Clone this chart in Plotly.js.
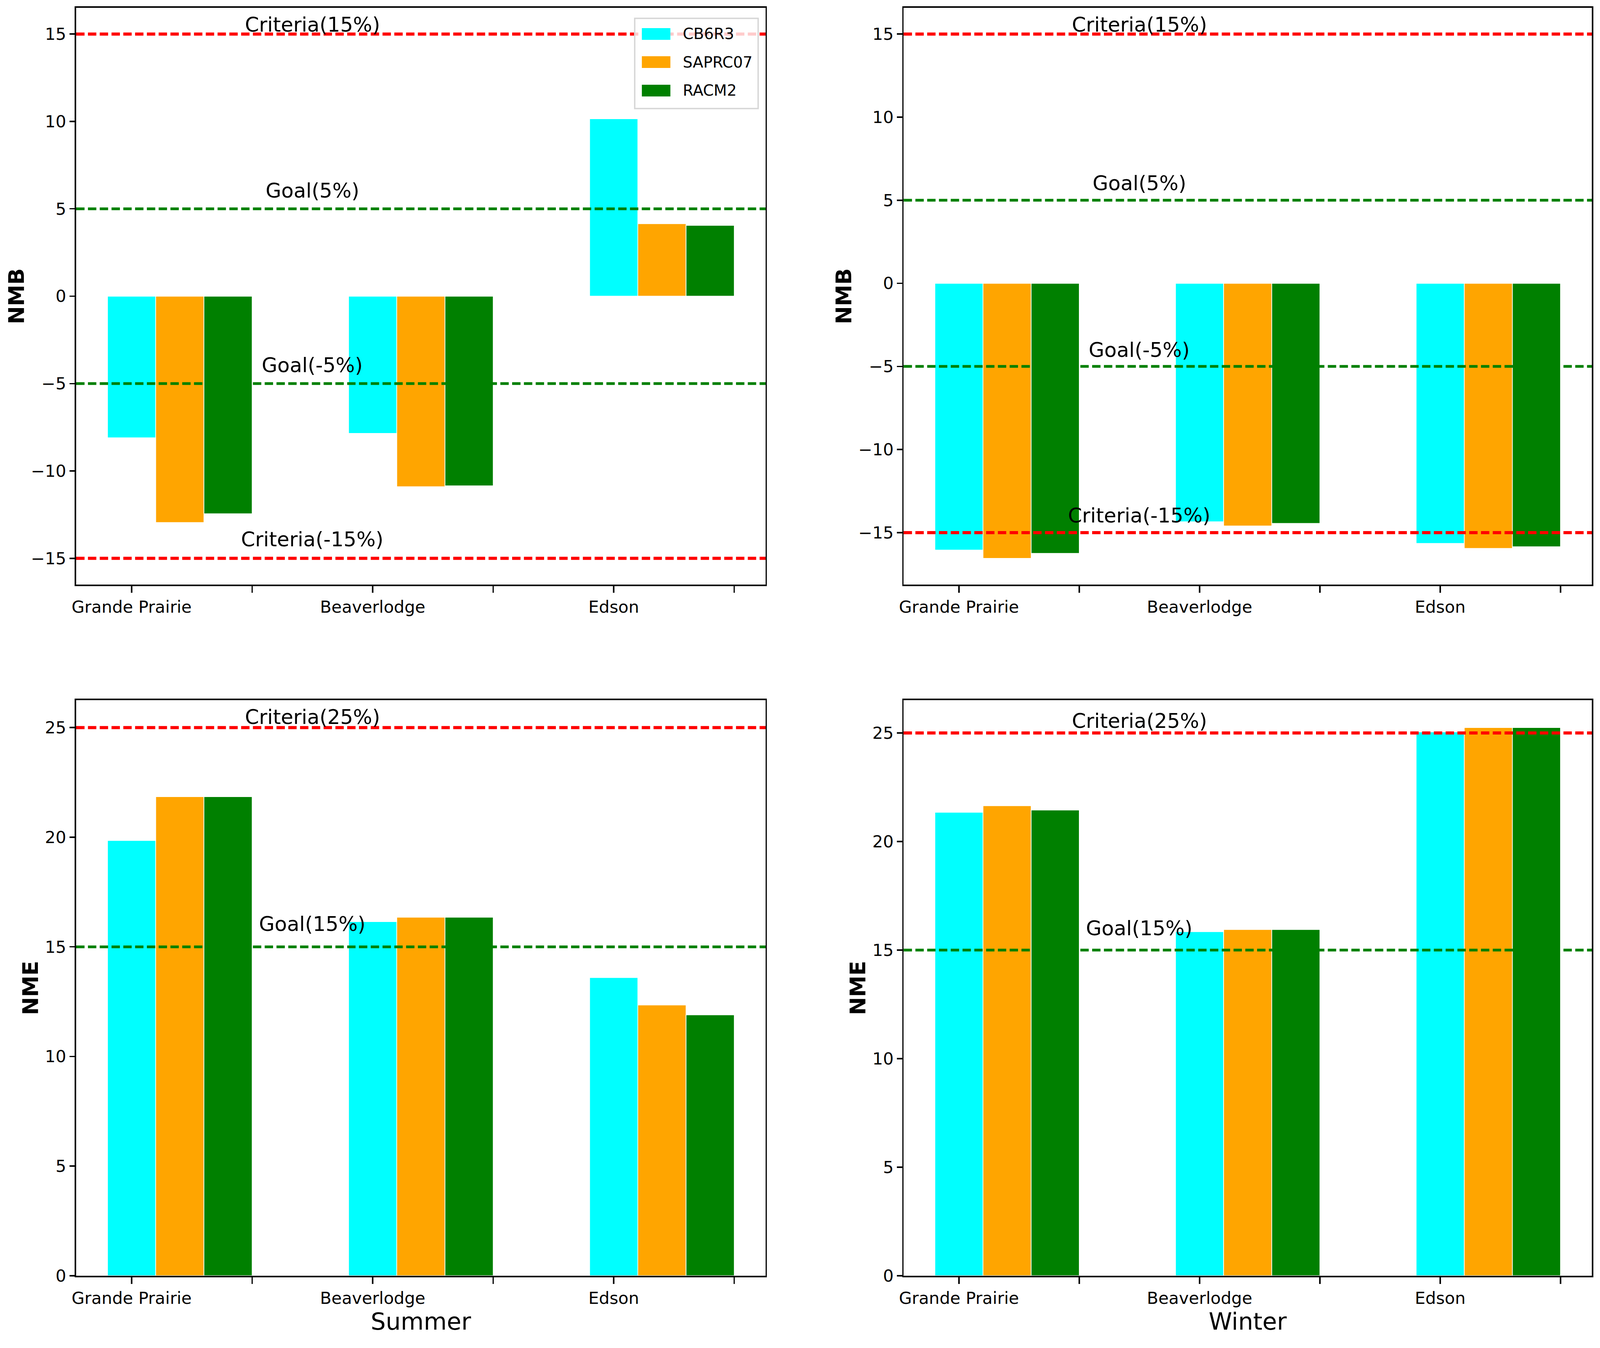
<!DOCTYPE html>
<html>
<head>
<meta charset="utf-8">
<script src="https://cdn.plot.ly/plotly-3.0.1.min.js"></script>
<style>html,body{margin:0;padding:0;background:#fff;overflow:hidden;}#chart{position:absolute;left:0;top:0;}</style>
</head>
<body>
<div id="chart"></div>
<script>
// ---------------- data ----------------
const categories = ['Grande Prairie', 'Beaverlodge', 'Edson'];
const seriesNames = ['CB6R3', 'SAPRC07', 'RACM2'];
const seriesColors = ['#00ffff', '#ffa500', '#008000'];

const summerNMB_CB6R3   = [-8.1, -7.85, 10.15];
const summerNMB_SAPRC07 = [-12.95, -10.9, 4.15];
const summerNMB_RACM2   = [-12.45, -10.85, 4.05];

const winterNMB_CB6R3   = [-16.05, -14.35, -15.65];
const winterNMB_SAPRC07 = [-16.55, -14.6, -15.95];
const winterNMB_RACM2   = [-16.25, -14.45, -15.85];

const summerNME_CB6R3   = [19.85, 16.15, 13.6];
const summerNME_SAPRC07 = [21.85, 16.35, 12.35];
const summerNME_RACM2   = [21.85, 16.35, 11.9];

const winterNME_CB6R3   = [21.35, 15.85, 25.05];
const winterNME_SAPRC07 = [21.65, 15.95, 25.25];
const winterNME_RACM2   = [21.45, 15.95, 25.25];

const nmbLines = [15, 5, -5, -15];
const nmbLabels = ['Criteria(15%)', 'Goal(5%)', 'Goal(-5%)', 'Criteria(-15%)'];
const nmeLines = [25, 15];
const nmeLabels = ['Criteria(25%)', 'Goal(15%)'];

// ---------------- sizing (design is 5160 x 3452, fitted to the window) ----------------
const BW = 5160, BH = 3452;
const vw = document.documentElement.clientWidth || window.innerWidth || BW;
const vh = document.documentElement.clientHeight || window.innerHeight || BH;
const sx = vw / BW, sy = vh / BH, sf = Math.sqrt(sx * sy);
const SX = v => v * sx, SY = v => v * sy, SF = v => v * sf;

const W = vw, H = vh;
const M = {l: SX(246), r: SX(27), t: SY(20), b: SY(185)};
const PW = W - M.l - M.r, PH = H - M.t - M.b;
const px = v => (SX(v) - M.l) / PW;
const py = v => (H - M.b - SY(v)) / PH;

const FONT = 'DejaVu Sans';
const barWidth = 0.2;
const lineColor = {red: '#ff0000', green: '#008000'};

const panels = [
  {xa: 'x',  ya: 'y',  data: [summerNMB_CB6R3, summerNMB_SAPRC07, summerNMB_RACM2],
   lines: nmbLines, labels: nmbLabels, colors: ['red', 'green', 'green', 'red'], off: [0.12, 0.62, 0.65, 0.68],
   ytitle: 'NMB', xtitle: '', bars0: false},
  {xa: 'x2', ya: 'y2', data: [winterNMB_CB6R3, winterNMB_SAPRC07, winterNMB_RACM2],
   lines: nmbLines, labels: nmbLabels, colors: ['red', 'green', 'green', 'red'], off: [0.13, 0.59, 0.56, 0.59],
   ytitle: 'NMB', xtitle: '', bars0: false},
  {xa: 'x3', ya: 'y3', data: [summerNME_CB6R3, summerNME_SAPRC07, summerNME_RACM2],
   lines: nmeLines, labels: nmeLabels, colors: ['red', 'green'], off: [0.15, 0.71],
   ytitle: 'NME', xtitle: 'Summer', bars0: true},
  {xa: 'x4', ya: 'y4', data: [winterNME_CB6R3, winterNME_SAPRC07, winterNME_RACM2],
   lines: nmeLines, labels: nmeLabels, colors: ['red', 'green'], off: [0.22, 0.68],
   ytitle: 'NME', xtitle: 'Winter', bars0: true}
];

const traces = [];
const shapes = [];
const annotations = [];
const layout = {
  width: W, height: H, margin: M, showlegend: false,
  paper_bgcolor: '#fff', plot_bgcolor: '#fff',
  font: {family: FONT, color: '#000', size: SF(48)},
  bargap: 0
};

const xDomains = [[0, px(2469)], [px(2914), 1], [0, px(2469)], [px(2914), 1]];
const yDomains = [[py(1497), 1], [py(1497), 1], [0, py(1793)], [0, py(1793)]];

const tickvals = [], ticktext = [];
categories.forEach((c, i) => { tickvals.push(i, i + 0.5); ticktext.push(c, ''); });

panels.forEach((p, k) => {
  const xs = categories.map((_, i) => i);
  p.data.forEach((vals, si) => {
    traces.push({
      type: 'bar', x: xs.map(v => v + si * barWidth), y: vals, width: barWidth,
      name: seriesNames[si], xaxis: p.xa, yaxis: p.ya,
      marker: {color: seriesColors[si], line: {color: '#ffffff', width: SF(2)}},
      hoverinfo: 'skip'
    });
  });
  // matplotlib-like autoscale (5% margins, bars sticky at 0)
  const all = [].concat(...p.data, p.lines);
  let lo = Math.min(...all), hi = Math.max(...all);
  if (p.bars0) lo = Math.min(lo, 0);
  const pad = 0.05 * (hi - lo);
  const yr = [p.bars0 ? 0 : lo - pad, hi + pad];
  const xlo = -barWidth / 2, xhi = (categories.length - 1) + (seriesNames.length - 0.5) * barWidth;
  const xpad = 0.05 * (xhi - xlo);
  const xname = k === 0 ? 'xaxis' : 'xaxis' + (k + 1);
  const yname = k === 0 ? 'yaxis' : 'yaxis' + (k + 1);
  const axCommon = {
    ticks: 'outside', tickwidth: SF(4), tickcolor: '#000',
    showline: true, linecolor: '#000', linewidth: SF(4), mirror: true,
    showgrid: false, zeroline: false, automargin: false,
    tickfont: {family: FONT, size: SF(48), color: '#000'}
  };
  layout[xname] = Object.assign({
    domain: xDomains[k], anchor: p.ya, range: [xlo - xpad, xhi + xpad],
    tickmode: 'array', tickvals: tickvals, ticktext: ticktext, ticklen: SY(17)
  }, axCommon);
  if (p.xtitle) layout[xname].title = {text: p.xtitle, font: {family: FONT, size: SF(68), color: '#000'}, standoff: SY(12)};
  layout[yname] = Object.assign({
    domain: yDomains[k], anchor: p.xa, range: yr,
    tickmode: 'linear', tick0: 0, dtick: 5, ticklen: SX(17),
    title: {text: '<b>' + p.ytitle + '</b>', font: {family: FONT, size: SF(62), color: '#000'}, standoff: SX(1)}
  }, axCommon);
  p.lines.forEach((v, j) => {
    const red = p.colors[j] === 'red';
    shapes.push({
      type: 'line', xref: p.xa + ' domain', yref: p.ya, x0: 0, x1: 1, y0: v, y1: v,
      line: {color: lineColor[p.colors[j]], width: SY(red ? 8 : 7), dash: SX(27) + 'px,' + SX(11) + 'px'},
      layer: 'above'
    });
    annotations.push({
      xref: p.xa, yref: p.ya, x: 0.75, y: v + p.off[j], text: p.labels[j], showarrow: false,
      xanchor: 'center', yanchor: 'bottom', yshift: -SF(15),
      font: {family: FONT, size: SF(58), color: '#000'}
    });
  });
});

// legend (matplotlib style) in the top-left panel
shapes.push({
  type: 'rect', xref: 'paper', yref: 'paper', x0: px(2047), x1: px(2445), y0: py(278), y1: py(47),
  fillcolor: 'rgba(255,255,255,0.8)', line: {color: '#d6d6d6', width: SF(4)}, layer: 'above'
});
const rowY = [87, 159, 232];
seriesNames.forEach((n, i) => {
  shapes.push({
    type: 'rect', xref: 'paper', yref: 'paper', x0: px(2070), x1: px(2162),
    y0: py(rowY[i] + 15), y1: py(rowY[i] - 15),
    fillcolor: seriesColors[i], line: {width: 0}, layer: 'above'
  });
  annotations.push({
    xref: 'paper', yref: 'paper', x: px(2200), y: py(rowY[i]), text: n, showarrow: false,
    xanchor: 'left', yanchor: 'middle', font: {family: FONT, size: SF(44), color: '#000'}
  });
});

layout.shapes = shapes;
layout.annotations = annotations;

document.getElementById('chart').style.width = W + 'px';
document.getElementById('chart').style.height = H + 'px';
Plotly.newPlot('chart', traces, layout, {staticPlot: true, displayModeBar: false});
</script>
</body>
</html>
